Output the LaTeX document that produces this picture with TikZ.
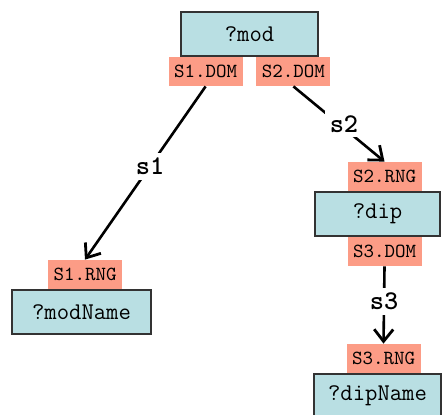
\documentclass[tikz,border=0pt]{standalone}
\usepackage{fontspec}
\usetikzlibrary{positioning,arrows.meta}
\definecolor{boxblue}{HTML}{B9DFE3}
\definecolor{tagred}{HTML}{FC9C86}
\begin{document}
\begin{tikzpicture}[
    x=0.5pt, y=-0.5pt,
    % Boîtes des variables
    var/.style={draw=black!80, fill=boxblue, line width=0.6pt, minimum height=22pt,
        inner sep=0pt, font=\ttfamily\fontsize{12}{13}\selectfont},
    % Étiquettes DOM / RNG
    tag/.style={fill=tagred, minimum width=37pt, minimum height=14.5pt,
        inner sep=0pt, font=\ttfamily\fontsize{10}{11}\selectfont},
    rel/.style={line width=1.3pt, -{Straight Barb[length=6pt,width=9.5pt,line width=1.4pt]}},
    lab/.style={fill=white, inner sep=2.5pt, font=\ttfamily\bfseries\fontsize{13.5}{14}\selectfont}
]
\clip (0,0) rectangle (442,414);
% Racine
\node[var, minimum width=68.5pt] (mod) at (249.5,34) {?mod};
\node[tag, anchor=north east] (s1dom) at ([xshift=-3.25pt]mod.south) {S1.DOM};
\node[tag, anchor=north west] (s2dom) at ([xshift=3.25pt]mod.south) {S2.DOM};
% Branche gauche
\node[var, minimum width=69.5pt] (modname) at (81.5,312) {?modName};
\node[tag, above=0pt of modname, xshift=1.75pt] (s1rng) {S1.RNG};
% Branche droite
\node[var, minimum width=62.5pt] (dip) at (377.5,214) {?dip};
\node[tag, above=0pt of dip, xshift=3.5pt] (s2rng) {S2.RNG};
\node[tag, below=0pt of dip, xshift=3.5pt] (s3dom) {S3.DOM};
\node[var, minimum width=63.5pt] (dipname) at (377.5,396) {?dipName};
\node[tag, above=0pt of dipname, xshift=3pt] (s3rng) {S3.RNG};
% Relations
\draw[rel] (s1dom.south) -- node[lab, pos=0.46] {s1} (s1rng.north);
\draw[rel] (s2dom.south) -- node[lab, xshift=2.5pt] {s2} (s2rng.north);
\draw[rel] (s3dom.south) -- node[lab, pos=0.45] {s3} (s3rng.north);
\end{tikzpicture}
\end{document}
